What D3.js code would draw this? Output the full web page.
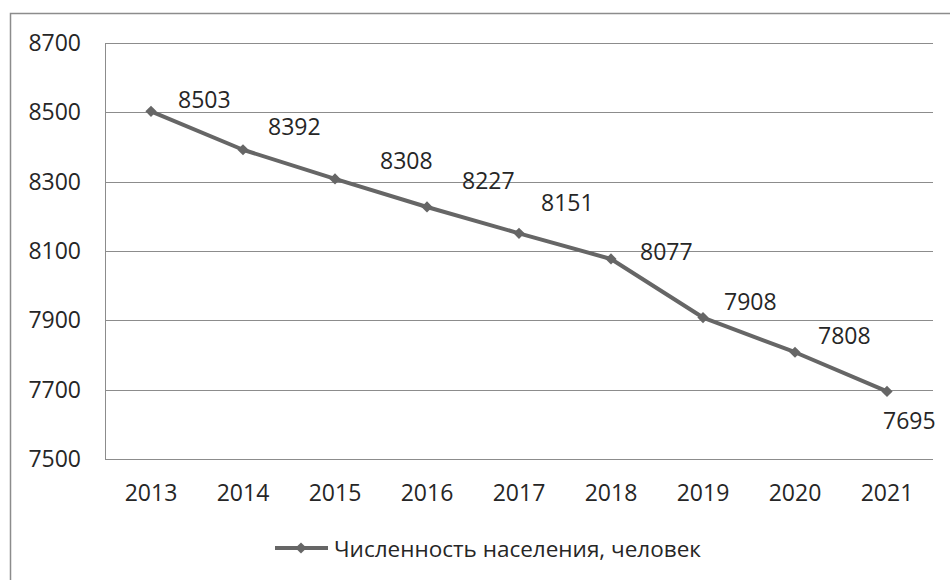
<!DOCTYPE html>
<html>
<head>
<meta charset="utf-8">
<script src="https://cdn.jsdelivr.net/npm/d3@7"></script>
<style>
  body { margin: 0; background: #fff; }
  text { font-family: "Open Sans", "Noto Sans", sans-serif; fill: #262626; }
</style>
</head>
<body>
<div id="chart"></div>
<script>
// data
const years = ["2013", "2014", "2015", "2016", "2017", "2018", "2019", "2020", "2021"];
const population = [8503, 8392, 8308, 8227, 8151, 8077, 7908, 7808, 7695];
const yTicks = [7500, 7700, 7900, 8100, 8300, 8500, 8700];
const seriesName = "Численность населения, человек";

// label placement (offset of text start / middle from the point)
const labelDx = [27, 25, 45, 35, 22, 29, 21, 23, -4];
const labelDy = [-11, -23, -18, -26, -30, -7, -16, -16, 30];

const width = 950, height = 580;
const plot = {left: 105, right: 933, top: 43, bottom: 459};

const svg = d3.select("#chart").append("svg")
    .attr("width", width)
    .attr("height", height);

// outer chart frame
svg.append("path")
    .attr("d", `M10.5,${height} V13.5 H${width}`)
    .attr("fill", "none")
    .attr("stroke", "#8c8c8c")
    .attr("stroke-width", 1.5);

const x = d3.scaleBand().domain(years).range([plot.left, plot.right]);
const y = d3.scaleLinear().domain([7500, 8700]).range([plot.bottom, plot.top]);

// gridlines
svg.append("g")
    .selectAll("line")
    .data(yTicks)
    .enter().append("line")
    .attr("x1", plot.left)
    .attr("x2", plot.right)
    .attr("y1", d => Math.round(y(d)) + 0.5)
    .attr("y2", d => Math.round(y(d)) + 0.5)
    .attr("stroke", "#8c8c8c")
    .attr("stroke-width", 1);

// left axis line
svg.append("line")
    .attr("x1", plot.left + 0.5).attr("x2", plot.left + 0.5)
    .attr("y1", plot.top).attr("y2", plot.bottom + 0.5)
    .attr("stroke", "#8c8c8c");

// y labels
svg.append("g")
    .selectAll("text")
    .data(yTicks)
    .enter().append("text")
    .attr("x", 81)
    .attr("y", d => y(d) + 8)
    .attr("text-anchor", "end")
    .style("font-size", "23px")
    .text(d => d);

// x labels
svg.append("g")
    .selectAll("text")
    .data(years)
    .enter().append("text")
    .attr("x", d => x(d) + x.bandwidth() / 2)
    .attr("y", 501)
    .attr("text-anchor", "middle")
    .style("font-size", "23px")
    .text(d => d);

const cx = (d, i) => x(years[i]) + x.bandwidth() / 2;
const line = d3.line().x(cx).y(d => y(d));

svg.append("path")
    .datum(population)
    .attr("d", line)
    .attr("fill", "none")
    .attr("stroke", "#666666")
    .attr("stroke-width", 4)
    .attr("stroke-linejoin", "round");

const diamond = d3.symbol().type(d3.symbolDiamond2).size(80);

svg.append("g")
    .selectAll("path")
    .data(population)
    .enter().append("path")
    .attr("d", diamond)
    .attr("transform", (d, i) => `translate(${cx(d, i)},${y(d)})`)
    .attr("fill", "#666666");

// value labels
svg.append("g")
    .selectAll("text")
    .data(population)
    .enter().append("text")
    .attr("x", (d, i) => cx(d, i) + labelDx[i])
    .attr("y", (d, i) => y(d) + labelDy[i] + 8)
    .style("font-size", "23px")
    .text(d => d);

// legend
const lg = svg.append("g");
lg.append("line")
    .attr("x1", 275).attr("x2", 328)
    .attr("y1", 548).attr("y2", 548)
    .attr("stroke", "#666666")
    .attr("stroke-width", 4);
lg.append("path")
    .attr("d", diamond)
    .attr("transform", "translate(301,548)")
    .attr("fill", "#666666");
lg.append("text")
    .attr("x", 334)
    .attr("y", 557)
    .style("font-size", "22.5px")
    .text(seriesName);
</script>
</body>
</html>
